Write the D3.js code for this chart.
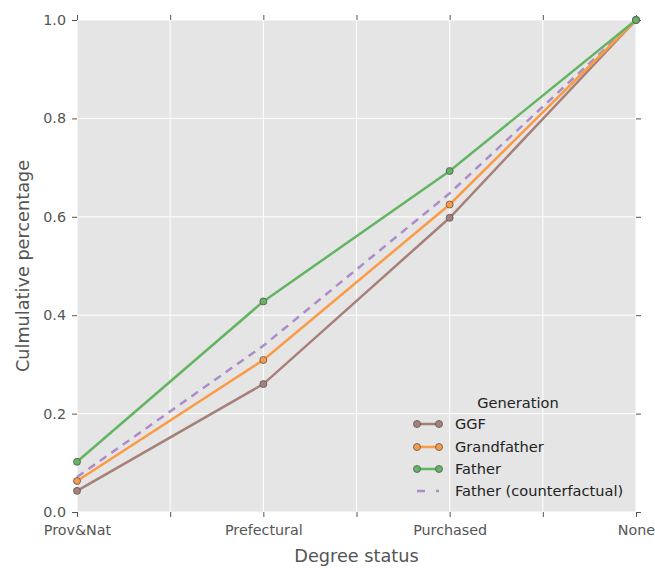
<!DOCTYPE html>
<html>
<head>
<meta charset="utf-8">
<script src="https://cdn.jsdelivr.net/npm/d3@7"></script>
<style>
  body { margin: 0; background: #fff; }
  text { font-family: "DejaVu Sans", sans-serif; }
</style>
</head>
<body>
<div id="chart"></div>
<script>
var categories = ["Prov&Nat", "Prefectural", "Purchased", "None"];
var ggf = [0.043, 0.26, 0.598, 1.0];
var grandfather = [0.063, 0.309, 0.625, 1.0];
var father = [0.102, 0.428, 0.693, 1.0];
var counterfactual = [0.071, 0.338, 0.648, 1.0];
var yTicks = [0.0, 0.2, 0.4, 0.6, 0.8, 1.0];
var xTicks = [0, 0.5, 1, 1.5, 2, 2.5, 3];

var series = [
  {name: "GGF", values: ggf, color: "#a78179", marker: true},
  {name: "Grandfather", values: grandfather, color: "#fb9b45", marker: true},
  {name: "Father", values: father, color: "#63b563", marker: true},
  {name: "Father (counterfactual)", values: counterfactual, color: "#ad8dc9", marker: false}
];

var width = 655, height = 569;
var margin = {left: 77, top: 20, right: 19, bottom: 57};
var innerW = width - margin.left - margin.right,
    innerH = height - margin.top - margin.bottom;

var x = d3.scaleLinear().domain([0, 3]).range([0, innerW]);
var y = d3.scaleLinear().domain([0, 1]).range([innerH, 0]);

var svg = d3.select("#chart").append("svg")
  .attr("width", width)
  .attr("height", height);

var g = svg.append("g")
  .attr("transform", "translate(" + margin.left + "," + margin.top + ")");

// background
g.append("rect")
  .attr("width", innerW)
  .attr("height", innerH)
  .attr("fill", "#e5e5e5");

// grid
g.selectAll("line.vgrid")
  .data(xTicks).enter().append("line")
  .attr("class", "vgrid")
  .attr("x1", function(d) { return x(d); }).attr("x2", function(d) { return x(d); })
  .attr("y1", 0).attr("y2", innerH)
  .attr("stroke", "#fff").attr("stroke-width", 1);

g.selectAll("line.hgrid")
  .data(yTicks).enter().append("line")
  .attr("class", "hgrid")
  .attr("y1", function(d) { return y(d); }).attr("y2", function(d) { return y(d); })
  .attr("x1", 0).attr("x2", innerW)
  .attr("stroke", "#fff").attr("stroke-width", 1);

// axes (ticks outward on all sides)
function styleAxis(sel) {
  sel.select(".domain").remove();
  sel.selectAll(".tick line").attr("stroke", "#555");
  sel.selectAll(".tick text").attr("fill", "#555")
    .style("font-size", "14.3px").style("font-family", "DejaVu Sans, sans-serif");
}

var xAxis = g.append("g")
  .attr("transform", "translate(0," + innerH + ")")
  .call(d3.axisBottom(x).tickValues(xTicks).tickSize(5).tickPadding(8)
    .tickFormat(function(d) { return d % 1 === 0 ? categories[d] : ""; }));
styleAxis(xAxis);

var xTop = g.append("g")
  .call(d3.axisTop(x).tickValues(xTicks).tickSize(5).tickFormat(""));
styleAxis(xTop);

var yAxis = g.append("g")
  .call(d3.axisLeft(y).tickValues(yTicks).tickSize(5).tickPadding(6)
    .tickFormat(d3.format(".1f")));
styleAxis(yAxis);

var yRight = g.append("g")
  .attr("transform", "translate(" + innerW + ",0)")
  .call(d3.axisRight(y).tickValues(yTicks).tickSize(5).tickFormat(""));
styleAxis(yRight);

// axis titles
svg.append("text")
  .attr("x", margin.left + innerW / 2)
  .attr("y", 562)
  .attr("text-anchor", "middle")
  .attr("fill", "#555")
  .style("font-size", "17.7px")
  .text("Degree status");

svg.append("text")
  .attr("transform", "translate(29," + (margin.top + innerH / 2) + ") rotate(-90)")
  .attr("text-anchor", "middle")
  .attr("fill", "#555")
  .style("font-size", "17.7px")
  .text("Culmulative percentage");

// lines
var line = d3.line()
  .x(function(d, i) { return x(i); })
  .y(function(d) { return y(d); });

var order = [3, 0, 1, 2];
order.forEach(function(k) {
  var s = series[k];
  g.append("path")
    .datum(s.values)
    .attr("fill", "none")
    .attr("stroke", s.color)
    .attr("stroke-width", 2.5)
    .attr("stroke-dasharray", s.marker ? null : "8,6")
    .attr("d", line);
  if (s.marker) {
    g.selectAll(null)
      .data(s.values).enter().append("circle")
      .attr("cx", function(d, i) { return x(i); })
      .attr("cy", function(d) { return y(d); })
      .attr("r", 3.5)
      .attr("fill", s.color)
      .attr("stroke", "#555")
      .attr("stroke-width", 0.8);
  }
});

// legend
var legend = svg.append("g").attr("transform", "translate(417,0)");
legend.append("text")
  .attr("x", 101)
  .attr("y", 408)
  .attr("text-anchor", "middle")
  .attr("fill", "#222")
  .style("font-size", "14.6px")
  .text("Generation");

var legY = [424, 447, 469, 491];
series.forEach(function(s, i) {
  var row = legend.append("g").attr("transform", "translate(0," + legY[i] + ")");
  row.append("line")
    .attr("x1", 0).attr("x2", 22)
    .attr("stroke", s.color)
    .attr("stroke-width", 2.5)
    .attr("stroke-dasharray", s.marker ? null : "8,11");
  if (s.marker) {
    [0, 22].forEach(function(cx) {
      row.append("circle")
        .attr("cx", cx).attr("cy", 0).attr("r", 3.5)
        .attr("fill", s.color)
        .attr("stroke", "#555")
        .attr("stroke-width", 0.8);
    });
  }
  row.append("text")
    .attr("x", 38)
    .attr("y", 5)
    .attr("fill", "#222")
    .style("font-size", "14.6px")
    .text(s.name);
});
</script>
</body>
</html>
